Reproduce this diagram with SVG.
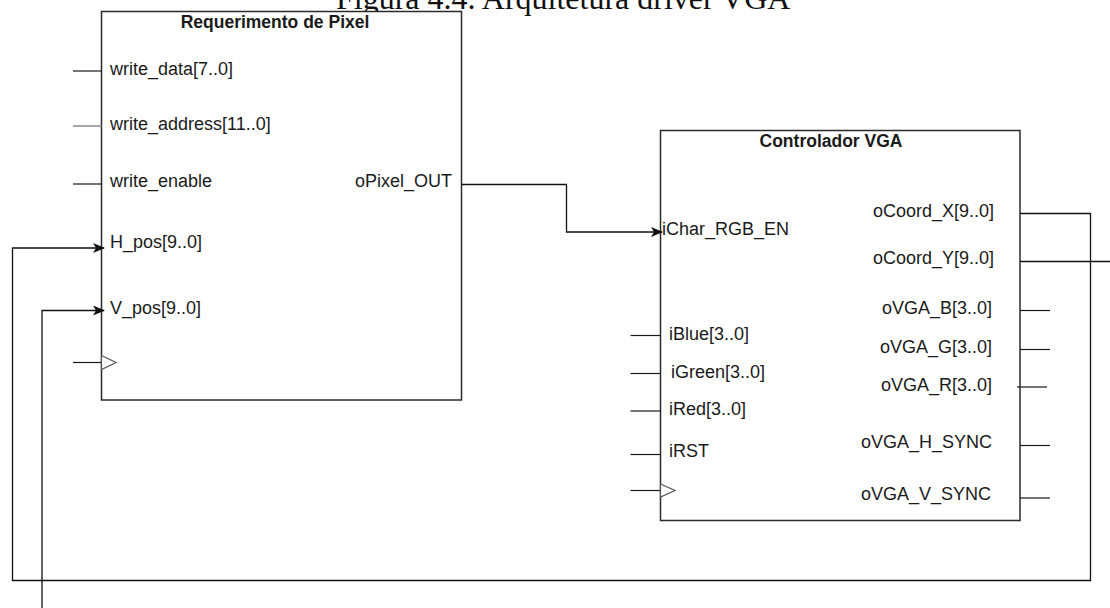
<svg xmlns="http://www.w3.org/2000/svg" width="1110" height="608" viewBox="0 0 1110 608">
  <style>
    .box { fill: #ffffff; stroke: #2b2b2b; stroke-width: 1.5; }
    .lbl { font-family: "Liberation Sans", Arial, sans-serif; font-size: 18px; fill: #1a1a1a; }
    .ttl { font-family: "Liberation Sans", Arial, sans-serif; font-size: 17.5px; font-weight: bold; fill: #1a1a1a; text-anchor: middle; }
    .end { text-anchor: end; }
    .stub { stroke: #1a1a1a; stroke-width: 1.2; fill: none; }
    .wire { stroke: #111111; stroke-width: 1.3; fill: none; }
    .clk { fill: #ffffff; stroke: #555555; stroke-width: 1.2; }
  </style>
  <defs>
    <marker id="arr" viewBox="0 0 12 10" refX="11" refY="5" markerWidth="12" markerHeight="10" markerUnits="userSpaceOnUse" orient="auto">
      <path d="M0,0 L12,5 L0,10 L3,5 Z" fill="#111111"/>
    </marker>
  </defs>
  <rect width="1110" height="608" fill="#ffffff"/>

  <text x="336" y="9" font-family="'Liberation Serif', 'Times New Roman', serif" font-size="32" fill="#111111">Figura 4.4. Arquitetura driver VGA</text>

  <g id="req-pixel">
    <rect class="box" x="101.5" y="11.5" width="360" height="388.5"/>
    <text class="ttl" x="275" y="28">Requerimento de Pixel</text>
    <line class="stub" x1="73" y1="71" x2="101.5" y2="71"/>
    <line x1="73" y1="126" x2="101.5" y2="126" stroke="#888888" stroke-width="1.5"/>
    <line class="stub" x1="73" y1="184" x2="101.5" y2="184"/>
    <line class="stub" x1="73" y1="362.5" x2="101.5" y2="362.5"/>
    <polygon class="clk" points="101.5,355.5 116,362.5 101.5,369.5"/>
    <text class="lbl" x="110" y="74.5">write_data[7..0]</text>
    <text class="lbl" x="110" y="129.5">write_address[11..0]</text>
    <text class="lbl" x="110" y="187">write_enable</text>
    <text class="lbl end" x="452" y="187">oPixel_OUT</text>
    <text class="lbl" x="110" y="248">H_pos[9..0]</text>
    <text class="lbl" x="110" y="314">V_pos[9..0]</text>
  </g>

  <g id="controlador-vga">
    <rect class="box" x="660.5" y="130.5" width="359.5" height="390"/>
    <text class="ttl" x="831" y="147">Controlador VGA</text>
    <text class="lbl" x="662" y="234.5">iChar_RGB_EN</text>
    <text class="lbl" x="669" y="340">iBlue[3..0]</text>
    <text class="lbl" x="671" y="377.5">iGreen[3..0]</text>
    <text class="lbl" x="669" y="415">iRed[3..0]</text>
    <text class="lbl" x="669" y="457">iRST</text>
    <line class="stub" x1="630.5" y1="335.5" x2="660.5" y2="335.5"/>
    <line class="stub" x1="630.5" y1="373.5" x2="660.5" y2="373.5"/>
    <line class="stub" x1="630.5" y1="411" x2="660.5" y2="411"/>
    <line class="stub" x1="630.5" y1="454.5" x2="660.5" y2="454.5"/>
    <line class="stub" x1="630.5" y1="490.5" x2="660.5" y2="490.5"/>
    <polygon class="clk" points="660.5,484 675,490.5 660.5,497"/>
    <text class="lbl end" x="994" y="216.5">oCoord_X[9..0]</text>
    <text class="lbl end" x="994" y="264">oCoord_Y[9..0]</text>
    <text class="lbl end" x="992" y="313.5">oVGA_B[3..0]</text>
    <text class="lbl end" x="992" y="353">oVGA_G[3..0]</text>
    <text class="lbl end" x="992" y="390.5">oVGA_R[3..0]</text>
    <text class="lbl end" x="992" y="448">oVGA_H_SYNC</text>
    <text class="lbl end" x="991" y="500">oVGA_V_SYNC</text>
    <line class="stub" x1="1020" y1="310.5" x2="1050" y2="310.5"/>
    <line class="stub" x1="1020" y1="349.5" x2="1050" y2="349.5"/>
    <line class="stub" x1="1017" y1="387" x2="1047" y2="387"/>
    <line class="stub" x1="1020" y1="445.5" x2="1050" y2="445.5"/>
    <line class="stub" x1="1020" y1="498" x2="1050" y2="498"/>
  </g>

  <g id="connectors">
    <path class="wire" d="M461.5,184.5 H566.5 V232 H662" marker-end="url(#arr)"/>
    <path class="wire" d="M1020,213.5 H1090.5 V580.5 H12.5 V248 H104" marker-end="url(#arr)"/>
    <path class="wire" d="M1020,261.5 H1130 V630 H42 V310.5 H104" marker-end="url(#arr)"/>
  </g>
</svg>
